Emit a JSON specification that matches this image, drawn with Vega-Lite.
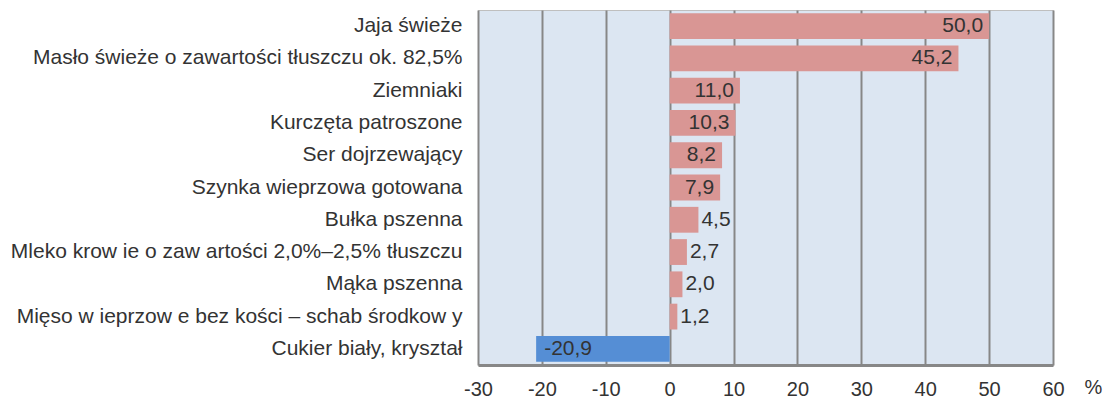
{
  "$schema": "https://vega.github.io/schema/vega-lite/v6.json",
  "autosize": {"type": "none"},
  "width": 575,
  "height": 355,
  "padding": {"left": 478, "top": 10, "right": 51, "bottom": 36},
  "background": "white",
  "config": {
    "locale": {"number": {"decimal": ",", "thousands": " ", "grouping": [3], "currency": ["", " zł"], "minus": "-"}},
    "font": "Liberation Sans",
    "view": {"fill": "#dce6f2", "stroke": "#bfbfbf", "strokeWidth": 1}
  },
  "data": {
    "values": [
      {"produkt": "Jaja świeże", "zmiana": 50.0},
      {"produkt": "Masło świeże o zawartości tłuszczu ok. 82,5%", "zmiana": 45.2},
      {"produkt": "Ziemniaki", "zmiana": 11.0},
      {"produkt": "Kurczęta patroszone", "zmiana": 10.3},
      {"produkt": "Ser dojrzewający", "zmiana": 8.2},
      {"produkt": "Szynka wieprzowa gotowana", "zmiana": 7.9},
      {"produkt": "Bułka pszenna", "zmiana": 4.5},
      {"produkt": "Mleko krow ie o zaw artości 2,0%–2,5% tłuszczu", "zmiana": 2.7},
      {"produkt": "Mąka pszenna", "zmiana": 2.0},
      {"produkt": "Mięso w ieprzow e bez kości – schab środkow y", "zmiana": 1.2},
      {"produkt": "Cukier biały, kryształ", "zmiana": -20.9}
    ]
  },
  "encoding": {
    "y": {
      "field": "produkt", "type": "nominal", "sort": null,
      "scale": {"paddingInner": 0.2, "paddingOuter": 0.1},
      "axis": {"title": null, "ticks": false, "domain": false, "labelFontSize": 21, "labelColor": "#333333", "labelPadding": 16, "labelLimit": 480}
    }
  },
  "layer": [
    {
      "mark": {"type": "bar"},
      "encoding": {
        "x": {
          "field": "zmiana", "type": "quantitative",
          "scale": {"domain": [-30, 60], "nice": false},
          "axis": {
            "values": [-30, -20, -10, 0, 10, 20, 30, 40, 50, 60],
            "format": "d",
            "grid": true, "gridColor": "#878787", "gridWidth": 2, "gridOpacity": 1,
            "ticks": false,
            "domain": true, "domainColor": "#878787", "domainWidth": 3,
            "labelFontSize": 20, "labelColor": "#333333", "labelPadding": 14,
            "labelFlush": false, "labelOverlap": false,
            "title": "%", "titleFontSize": 20, "titleFontWeight": "normal", "titleColor": "#333333",
            "titleX": 615, "titleY": 22, "titleAlign": "center", "titleBaseline": "middle"
          }
        },
        "color": {
          "condition": {"test": "datum.zmiana < 0", "value": "#558ed5"},
          "value": "#d99694"
        }
      }
    },
    {
      "transform": [{"filter": "datum.zmiana >= 7"}],
      "mark": {"type": "text", "align": "right", "baseline": "middle", "dx": -6, "fontSize": 21, "color": "#333333"},
      "encoding": {
        "x": {"field": "zmiana", "type": "quantitative"},
        "text": {"field": "zmiana", "type": "quantitative", "format": ".1f"}
      }
    },
    {
      "transform": [{"filter": "datum.zmiana >= 0 && datum.zmiana < 7"}],
      "mark": {"type": "text", "align": "left", "baseline": "middle", "dx": 3, "fontSize": 21, "color": "#333333"},
      "encoding": {
        "x": {"field": "zmiana", "type": "quantitative"},
        "text": {"field": "zmiana", "type": "quantitative", "format": ".1f"}
      }
    },
    {
      "transform": [{"filter": "datum.zmiana < 0"}],
      "mark": {"type": "text", "align": "left", "baseline": "middle", "dx": 8, "fontSize": 21, "color": "#333333"},
      "encoding": {
        "x": {"field": "zmiana", "type": "quantitative"},
        "text": {"field": "zmiana", "type": "quantitative", "format": ".1f"}
      }
    }
  ]
}
